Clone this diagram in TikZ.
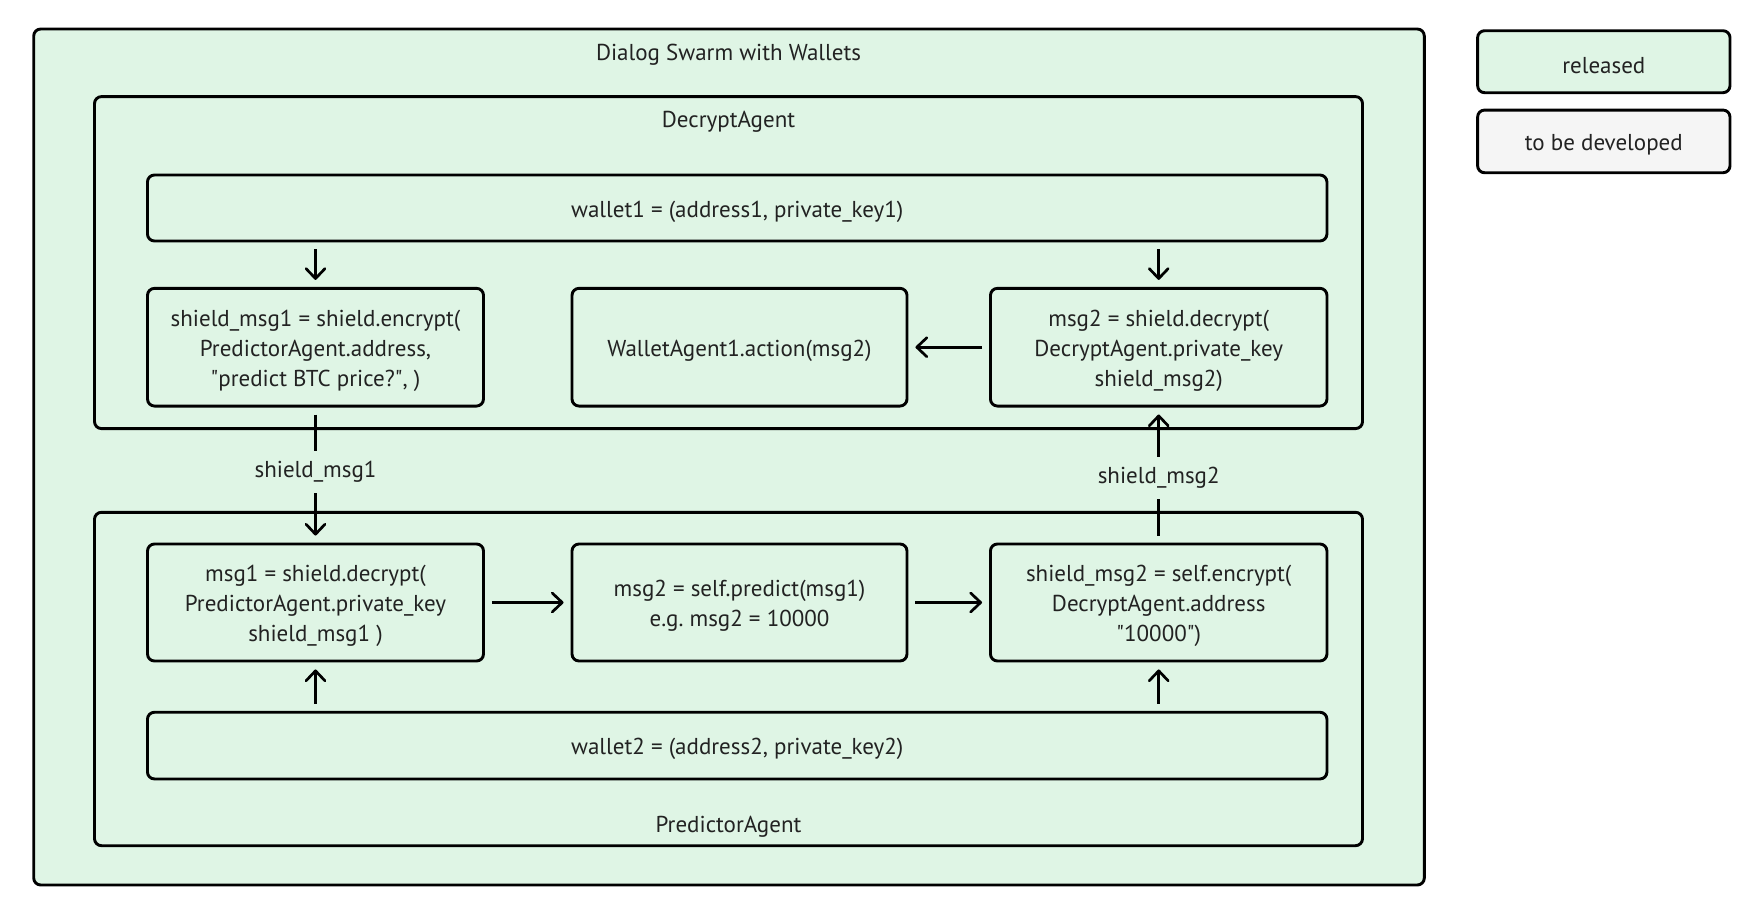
\documentclass[tikz,border=0pt]{standalone}
\usepackage{fontspec}
\setmainfont{PT Sans}
\usetikzlibrary{arrows.meta}
\definecolor{relgreen}{HTML}{DFF5E5}
\definecolor{devgray}{HTML}{F5F5F5}
\definecolor{txt}{HTML}{222222}
\newcommand{\qq}{\textquotedbl}
\frenchspacing
\begin{document}
\begin{tikzpicture}[x=1pt,y=-1pt,
  every node/.style={font=\fontsize{23}{30}\selectfont, text=txt},
  box/.style={draw=black, line width=2.9pt, rounded corners=7pt, fill=relgreen, inner sep=0pt},
  devbox/.style={box, fill=devgray},
  boxtext/.style={align=center, inner sep=0pt, yshift=-3.5pt},
  flow/.style={line width=2.7pt, -{Straight Barb[length=10pt,width=19pt,line width=2.7pt,round]}, shorten >=7pt, shorten <=7pt},
  lbl/.style={fill=relgreen, inner xsep=4pt, inner ysep=10pt}
]
\useasboundingbox (0,0) rectangle (1760,910);
% containers
\node[box, minimum width=1390.6pt, minimum height=856pt] (outer) at (729,457) {};
\node (title) at (728.5,55) {Dialog Swarm with Wallets};
\node[box, minimum width=1268pt, minimum height=332pt] (decrypt) at (728.5,262.6) {};
\node (declbl) at (728.5,122) {DecryptAgent};
\node[box, minimum width=1268pt, minimum height=333.4pt] (predictor) at (728.5,679) {};
\node (prelbl) at (728.5,827) {PredictorAgent};
% decrypt agent contents
\node[box, minimum width=1179.5pt, minimum height=66pt] (wallet1) at (737.2,208) {};
\node[boxtext] (wallet1t) at (wallet1.center) {wallet1 = (address1, private\_key1)};
\node[box, minimum width=336pt, minimum height=117.7pt] (sm1) at (315.5,347.2) {};
\node[boxtext] (sm1t) at (sm1.center) {shield\_msg1 = shield.encrypt(\\PredictorAgent.address,\\\qq predict BTC price?\qq, )};
\node[box, minimum width=335pt, minimum height=117.7pt] (wa) at (739.5,347.2) {};
\node[boxtext] (wat) at (wa.center) {WalletAgent1.action(msg2)};
\node[box, minimum width=336.5pt, minimum height=117.7pt] (m2d) at (1158.7,347.2) {};
\node[boxtext] (m2dt) at (m2d.center) {msg2 = shield.decrypt(\\DecryptAgent.private\_key\\shield\_msg2)};
% predictor agent contents
\node[box, minimum width=336pt, minimum height=117pt] (m1) at (315.5,602.5) {};
\node[boxtext] (m1t) at (m1.center) {msg1 = shield.decrypt(\\PredictorAgent.private\_key\\shield\_msg1 )};
\node[box, minimum width=335pt, minimum height=117pt] (pr) at (739.5,602.5) {};
\node[boxtext] (prt) at (pr.center) {msg2 = self.predict(msg1)\\e.g.\ msg2 = 10000};
\node[box, minimum width=336.5pt, minimum height=117pt] (sm2) at (1158.7,602.5) {};
\node[boxtext] (sm2t) at (sm2.center) {shield\_msg2 = self.encrypt(\\DecryptAgent.address\\\qq 10000\qq)};
\node[box, minimum width=1179.5pt, minimum height=66.7pt] (wallet2) at (737.2,745.6) {};
\node[boxtext] (wallet2t) at (wallet2.center) {wallet2 = (address2, private\_key2)};
% legend
\node[box, minimum width=252.4pt, minimum height=62pt] (released) at (1603.8,61.7) {};
\node[boxtext] (releasedt) at (released.center) {released};
\node[devbox, minimum width=252.4pt, minimum height=62.7pt] (tbd) at (1603.8,141.4) {};
\node[boxtext] (tbdt) at (tbd.center) {to be developed};
% connectors
\draw[flow] (sm1.north |- wallet1.south) -- (sm1.north);
\draw[flow] (m2d.north |- wallet1.south) -- (m2d.north);
\draw[flow] (m2d.west) -- (wa.east);
\draw[flow] (sm1.south) -- node[lbl, pos=0.478] (lab1) {shield\_msg1} (m1.north);
\draw[flow] (sm2.north) -- node[lbl, pos=0.478] (lab2) {shield\_msg2} (m2d.south);
\draw[flow] (m1.east) -- (pr.west);
\draw[flow] (pr.east) -- (sm2.west);
\draw[flow] (m1.south |- wallet2.north) -- (m1.south);
\draw[flow] (sm2.south |- wallet2.north) -- (sm2.south);
\end{tikzpicture}
\end{document}
